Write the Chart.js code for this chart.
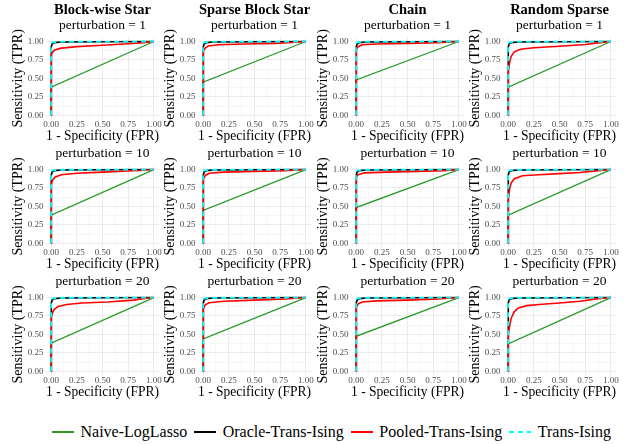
<!DOCTYPE html>
<html>
<head>
<meta charset="utf-8">
<script src="https://cdn.jsdelivr.net/npm/chart.js@4.4.1/dist/chart.umd.min.js"></script>
<style>
  body { margin: 0; background: #fff; width: 637px; height: 444px; position: relative; overflow: hidden; font-family: "Liberation Serif", serif; }
  canvas { position: absolute; }
  #legend { position: absolute; left: 52px; top: 423px; display: flex; align-items: center; font-size: 16px; line-height: 18px; white-space: nowrap; color: #000; }
  .sw { display: inline-block; width: 22px; height: 2px; margin-right: 6.5px; }
  .lab { margin-right: 7px; }
</style>
</head>
<body>
<div id="legend"></div>
<script>
// structures (columns) and perturbation levels (rows)
const structures = ['Block-wise Star', 'Sparse Block Star', 'Chain', 'Random Sparse'];
const perturbations = [1, 10, 20];
const methods = ['Naive-LogLasso', 'Oracle-Trans-Ising', 'Pooled-Trans-Ising', 'Trans-Ising'];
const methodColors = ['#2b9a2b', '#000000', '#ff0000', '#00ffff'];

// axis ticks
const tickValues = [0, 0.25, 0.5, 0.75, 1];
const minorTicks = [0.125, 0.375, 0.625, 0.875];

// Naive-LogLasso: TPR where the line leaves FPR = 0 (rows = perturbation, cols = structure)
const naiveStart = [
  [0.38, 0.45, 0.48, 0.38],
  [0.38, 0.445, 0.485, 0.38],
  [0.38, 0.44, 0.475, 0.37]
];

// Pooled-Trans-Ising ROC points [FPR, TPR]
const pooledCurves = [
  [
    [[0,0],[0,0.75],[0.005,0.82],[0.015,0.86],[0.04,0.89],[0.1,0.91],[0.25,0.93],[0.5,0.95],[0.75,0.97],[0.9,0.985],[1,1]],
    [[0,0],[0,0.8],[0.005,0.87],[0.02,0.91],[0.05,0.94],[0.15,0.955],[0.4,0.965],[0.7,0.975],[0.9,0.99],[1,1]],
    [[0,0],[0,0.82],[0.005,0.89],[0.02,0.93],[0.06,0.955],[0.2,0.965],[0.5,0.975],[0.8,0.985],[1,1]],
    [[0,0],[0,0.4],[0.005,0.6],[0.015,0.72],[0.03,0.8],[0.06,0.86],[0.12,0.895],[0.25,0.915],[0.5,0.935],[0.75,0.96],[0.9,0.985],[1,1]]
  ],
  [
    [[0,0],[0,0.7],[0.005,0.8],[0.015,0.86],[0.04,0.9],[0.1,0.93],[0.25,0.95],[0.5,0.965],[0.75,0.98],[0.9,0.99],[1,1]],
    [[0,0],[0,0.8],[0.005,0.87],[0.02,0.92],[0.06,0.95],[0.2,0.965],[0.5,0.975],[0.8,0.985],[1,1]],
    [[0,0],[0,0.84],[0.005,0.9],[0.02,0.93],[0.08,0.955],[0.3,0.965],[0.6,0.975],[0.85,0.985],[1,1]],
    [[0,0],[0,0.45],[0.005,0.6],[0.015,0.74],[0.03,0.82],[0.06,0.875],[0.14,0.915],[0.3,0.93],[0.5,0.945],[0.7,0.96],[0.88,0.985],[1,1]]
  ],
  [
    [[0,0],[0,0.65],[0.005,0.74],[0.015,0.8],[0.03,0.84],[0.07,0.88],[0.15,0.905],[0.3,0.925],[0.55,0.94],[0.8,0.965],[0.93,0.99],[1,1]],
    [[0,0],[0,0.78],[0.005,0.85],[0.02,0.9],[0.06,0.93],[0.2,0.95],[0.5,0.965],[0.8,0.98],[1,1]],
    [[0,0],[0,0.8],[0.005,0.87],[0.02,0.915],[0.06,0.94],[0.2,0.955],[0.5,0.965],[0.8,0.98],[1,1]],
    [[0,0],[0,0.38],[0.005,0.5],[0.015,0.62],[0.03,0.72],[0.06,0.81],[0.1,0.86],[0.18,0.89],[0.3,0.905],[0.5,0.925],[0.7,0.95],[0.88,0.985],[1,1]]
  ]
];

// Oracle-Trans-Ising and Trans-Ising are almost the same in every panel
const oracleCurve = [[0,0],[0,0.86],[0.003,0.93],[0.01,0.965],[0.03,0.985],[0.1,0.993],[1,1]];
const transCurve = [[0,0],[0,0.95],[0.005,0.98],[0.02,0.99],[0.1,0.997],[1,1]];

const FONT = 'Liberation Serif';
Chart.defaults.font.family = FONT;

const toXY = pts => pts.map(p => ({ x: p[0], y: p[1] }));
const isMajor = v => tickValues.some(t => Math.abs(t - v) < 1e-9);

function axis(isX) {
  return {
    type: 'linear',
    min: -0.05,
    max: 1.05,
    afterBuildTicks: s => {
      s.ticks = tickValues.concat(minorTicks).sort((a, b) => a - b).map(v => ({ value: v }));
    },
    afterFit: s => {
      if (isX) s.height = 26; else s.width = 46;
      s.paddingLeft = s.paddingRight = s.paddingTop = s.paddingBottom = 0;
    },
    ticks: {
      autoSkip: false,
      maxRotation: 0,
      padding: isX ? 0 : 2.5,
      color: '#4d4d4d',
      font: { family: FONT, size: 9 },
      callback: v => isMajor(v) ? v.toFixed(2) : ''
    },
    grid: {
      drawTicks: false,
      lineWidth: 1,
      color: ctx => isMajor(ctx.tick.value) ? '#ebebeb' : '#f6f6f6'
    },
    border: { display: false },
    title: {
      display: true,
      text: isX ? '1 - Specificity (FPR)' : 'Sensitivity (TPR)',
      color: '#000',
      font: { family: FONT, size: 14, lineHeight: 1.2 },
      padding: isX ? { top: 0, bottom: 0 } : { top: 10, bottom: 0 }
    }
  };
}

const rowTops = [0, 146, 274];

perturbations.forEach((pert, r) => {
  structures.forEach((name, c) => {
    const canvas = document.createElement('canvas');
    canvas.width = 165;
    canvas.height = r === 0 ? 145 : 127;
    canvas.style.left = Math.round(152.4 * c) + 'px';
    canvas.style.top = rowTops[r] + 'px';
    document.body.appendChild(canvas);

    const pertText = 'perturbation = ' + pert;
    const titleOpts = r === 0
      ? { display: true, text: name, color: '#000', fullSize: false,
          font: { family: FONT, size: 14.5, weight: 'bold', lineHeight: 1.1 }, padding: { top: 2, bottom: 0 } }
      : { display: true, text: pertText, color: '#000', fullSize: false,
          font: { family: FONT, size: 13.5, weight: 'normal', lineHeight: 1.1 }, padding: { top: 0, bottom: 5 } };
    const subOpts = r === 0
      ? { display: true, text: pertText, color: '#000', fullSize: false,
          font: { family: FONT, size: 13.5, lineHeight: 1.1 }, padding: { top: 0, bottom: 5 } }
      : { display: false };

    const curves = [
      [[0, 0], [0, naiveStart[r][c]], [1, 1]],
      oracleCurve,
      pooledCurves[r][c],
      transCurve
    ];
    const widths = [1.3, 1.6, 1.6, 1.8];

    new Chart(canvas.getContext('2d'), {
      type: 'scatter',
      data: {
        datasets: methods.map((m, i) => ({
          label: m,
          data: toXY(curves[i]),
          showLine: true,
          borderColor: methodColors[i],
          borderWidth: widths[i],
          borderDash: i === 3 ? [5, 4] : [],
          pointRadius: 0,
          fill: false,
          tension: 0,
          order: 3 - i
        }))
      },
      options: {
        responsive: false,
        animation: false,
        devicePixelRatio: 1,
        layout: { padding: { left: 0, right: 6, top: 0, bottom: 0 } },
        plugins: {
          legend: { display: false },
          tooltip: { enabled: false },
          title: titleOpts,
          subtitle: subOpts
        },
        scales: { x: axis(true), y: axis(false) }
      }
    });
  });
});

// legend row under the grid
const legend = document.getElementById('legend');
methods.forEach((m, i) => {
  const sw = document.createElement('span');
  sw.className = 'sw';
  sw.style.background = i === 3
    ? 'repeating-linear-gradient(to right, #00ffff 0 5px, transparent 5px 9px)'
    : methodColors[i];
  const lab = document.createElement('span');
  lab.className = 'lab';
  lab.textContent = m;
  legend.appendChild(sw);
  legend.appendChild(lab);
});
</script>
</body>
</html>
